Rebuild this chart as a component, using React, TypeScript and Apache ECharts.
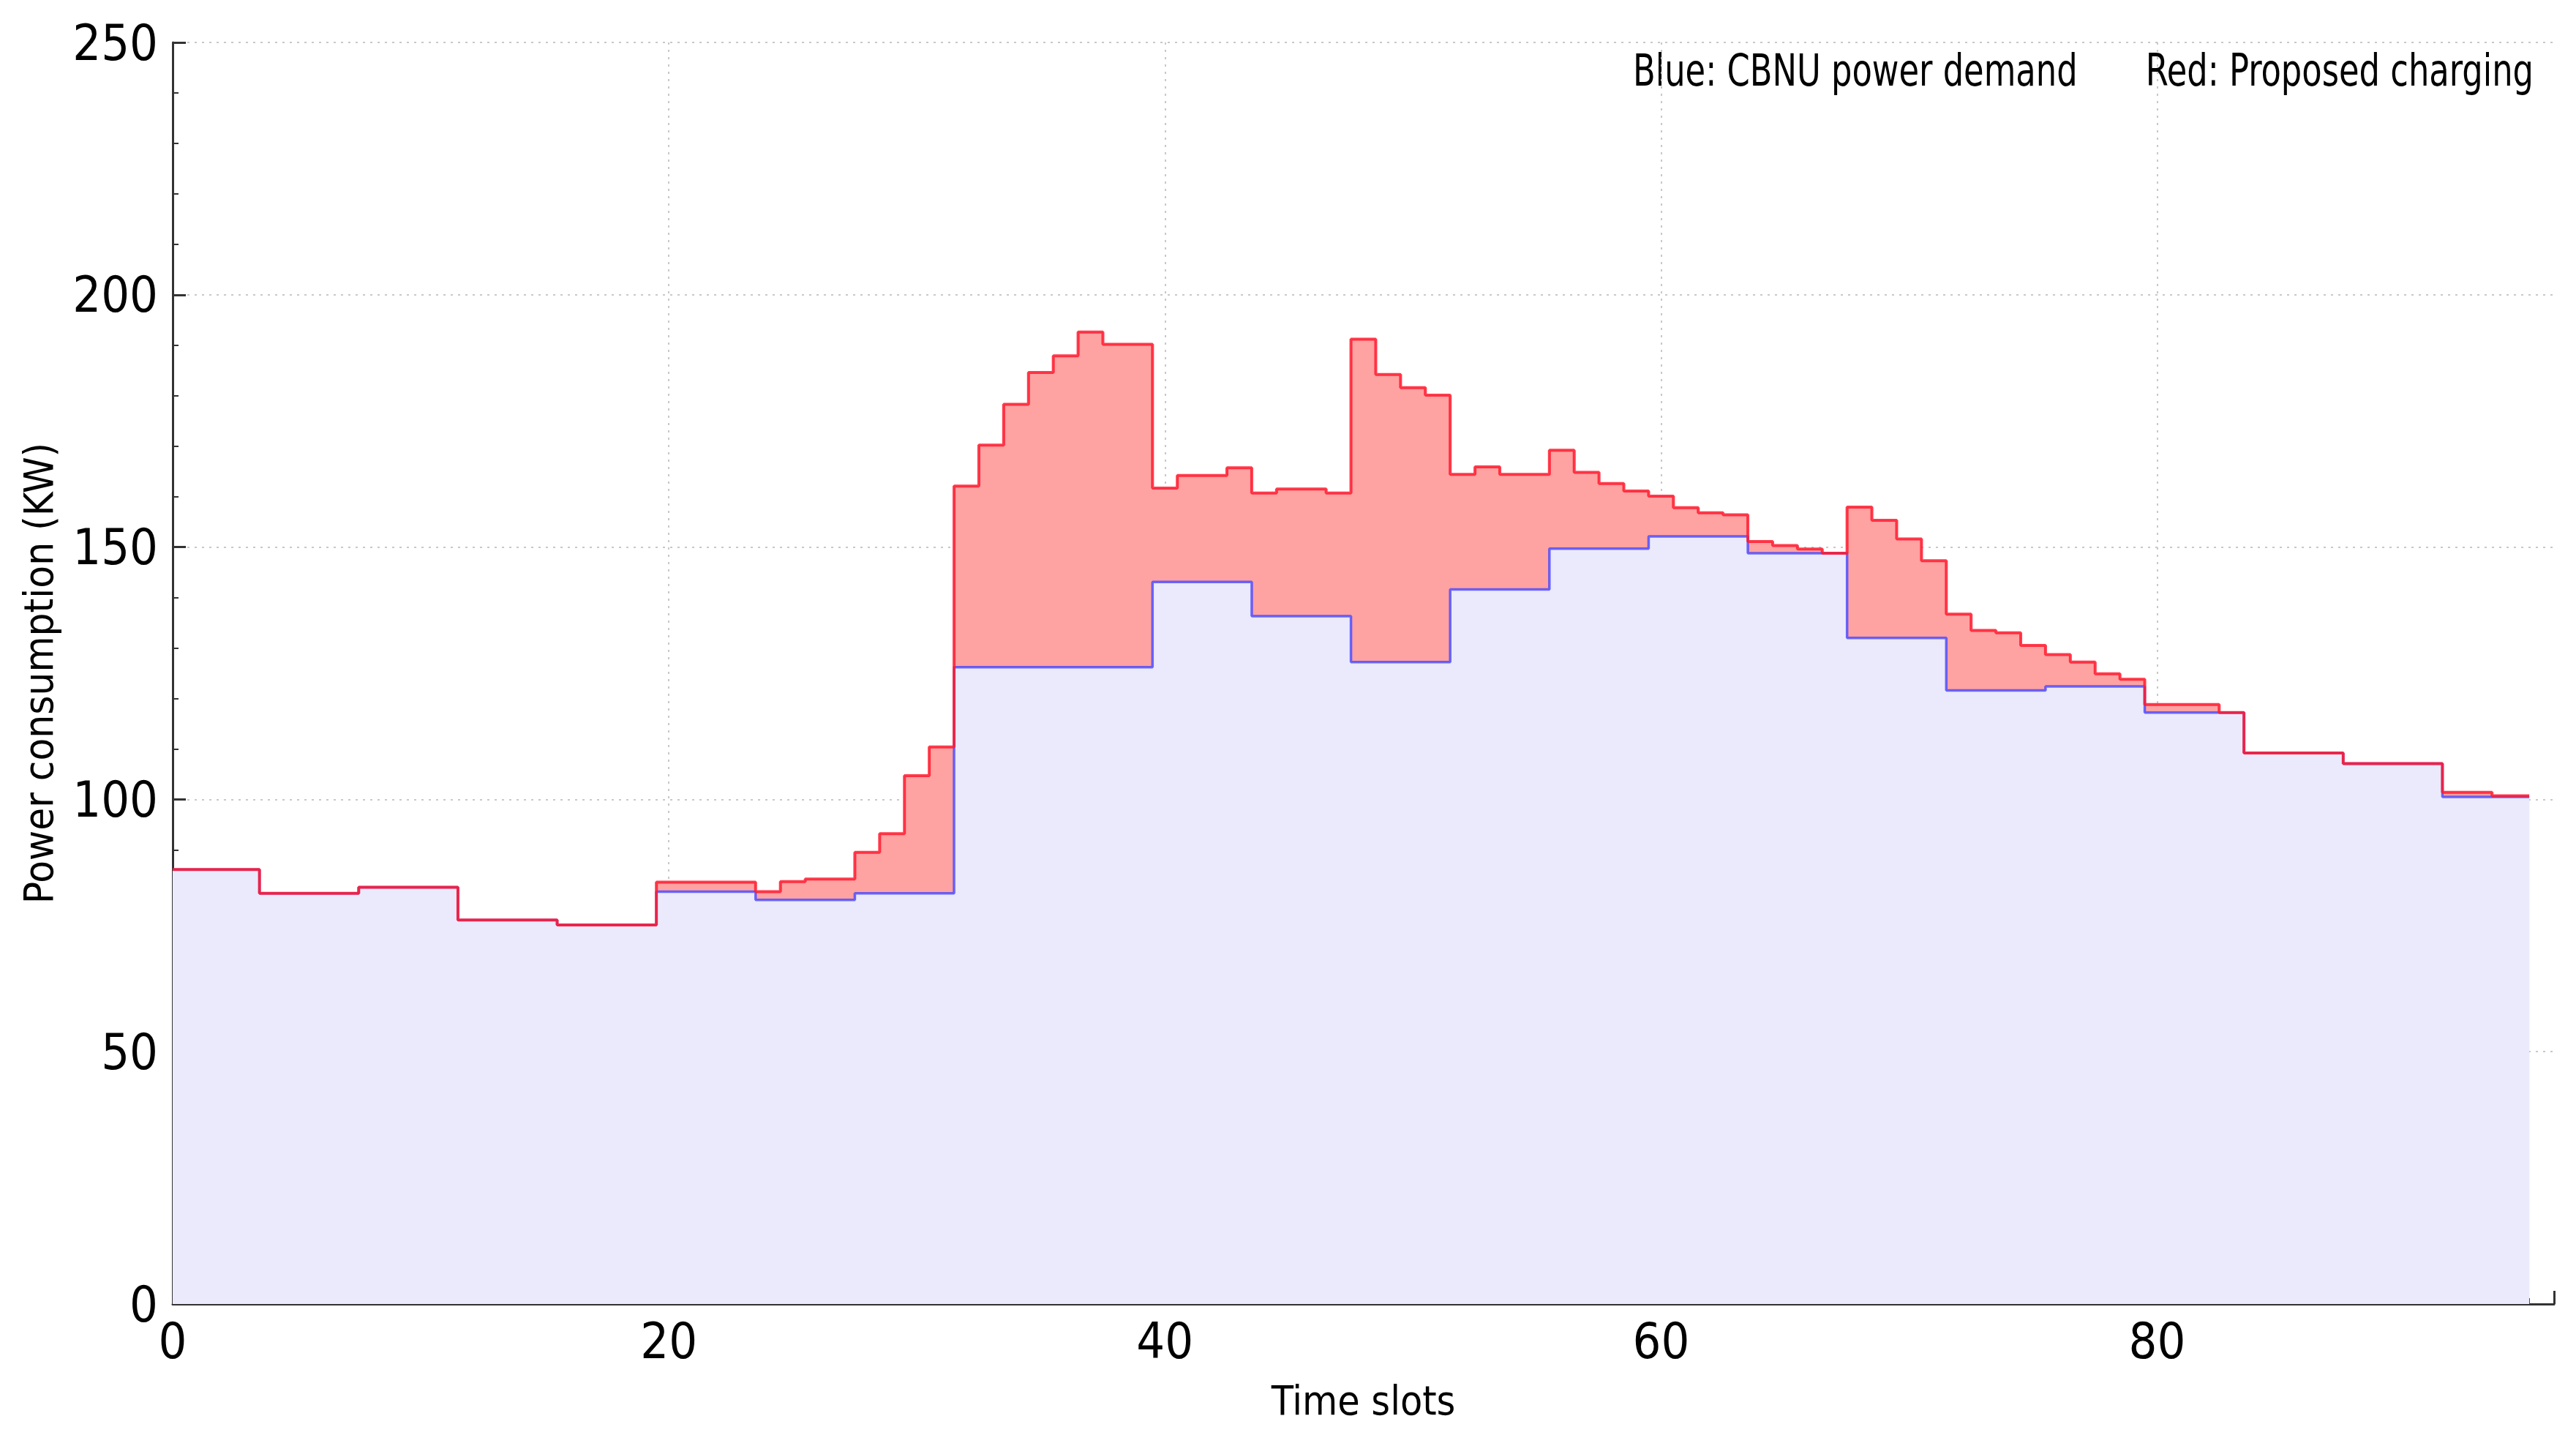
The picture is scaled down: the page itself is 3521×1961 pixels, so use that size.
import React, { useEffect, useRef } from "react";
import * as echarts from "echarts";

// CBNU power demand (blue), one value per time slot 0..95
const demand: number[] = [
  86.1, 86.1, 86.1, 86.1,
  81.4, 81.4, 81.4, 81.4,
  82.6, 82.6, 82.6, 82.6,
  76.1, 76.1, 76.1, 76.1,
  75.1, 75.1, 75.1, 75.1,
  81.7, 81.7, 81.7, 81.7,
  80.1, 80.1, 80.1, 80.1,
  81.4, 81.4, 81.4, 81.4,
  126.2, 126.2, 126.2, 126.2,
  126.2, 126.2, 126.2, 126.2,
  143.1, 143.1, 143.1, 143.1,
  136.3, 136.3, 136.3, 136.3,
  127.2, 127.2, 127.2, 127.2,
  141.6, 141.6, 141.6, 141.6,
  149.7, 149.7, 149.7, 149.7,
  152.1, 152.1, 152.1, 152.1,
  148.8, 148.8, 148.8, 148.8,
  132.0, 132.0, 132.0, 132.0,
  121.6, 121.6, 121.6, 121.6,
  122.4, 122.4, 122.4, 122.4,
  117.2, 117.2, 117.2, 117.2,
  109.2, 109.2, 109.2, 109.2,
  107.1, 107.1, 107.1, 107.1,
  100.5, 100.5, 100.5, 100.5,
];

// Proposed charging (red), one value per time slot 0..95
const proposed: number[] = [
  86.1, 86.1, 86.1, 86.1,
  81.4, 81.4, 81.4, 81.4,
  82.6, 82.6, 82.6, 82.6,
  76.1, 76.1, 76.1, 76.1,
  75.1, 75.1, 75.1, 75.1,
  83.6, 83.6, 83.6, 83.6,
  81.7, 83.7, 84.2, 84.2,
  89.5, 93.2, 104.7, 110.4,
  162.1, 170.2, 178.3, 184.6,
  187.9, 192.6, 190.2, 190.2,
  161.7, 164.2, 164.2, 165.7,
  160.7, 161.5, 161.5, 160.7,
  191.2, 184.2, 181.6, 180.1,
  164.4, 165.9, 164.4, 164.4,
  169.2, 164.8, 162.6, 161.1,
  160.1, 157.8, 156.8, 156.4,
  151.1, 150.3, 149.6, 148.8,
  157.9, 155.3, 151.6, 147.3,
  136.7, 133.5, 133.0, 130.5,
  128.7, 127.2, 124.9, 123.8,
  118.8, 118.8, 118.8, 117.2,
  109.2, 109.2, 109.2, 109.2,
  107.1, 107.1, 107.1, 107.1,
  101.4, 101.4, 100.7, 100.7,
];

const xTitle = "Time slots";
const yTitle = "Power consumption (KW)";
const blueNote = "Blue: CBNU power demand";
const redNote = "Red: Proposed charging";

const FONT =
  "'Liberation Sans Narrow', 'DejaVu Sans Condensed', 'Liberation Sans', sans-serif";

export default function App() {
  const ref = useRef<HTMLDivElement>(null);

  useEffect(() => {
    if (!ref.current) return;
    const chart = echarts.init(ref.current, null, { renderer: "svg" });

    const toPairs = (arr: number[]) => arr.map((v, i) => [i, v]);
    const redData = toPairs(proposed);
    const blueData = toPairs(demand);

    const gridLine = {
      show: true,
      showMinLine: false,
      showMaxLine: false,
      lineStyle: { color: "#c8c8c8", width: 2, type: [3, 7] as any },
    };

    const option: any = {
      animation: false,
      backgroundColor: "#ffffff",
      textStyle: { fontFamily: FONT },
      grid: { left: 236, right: 30, top: 58, bottom: 179, containLabel: false },
      xAxis: {
        type: "value",
        min: 0,
        max: 96,
        interval: 20,
        name: xTitle,
        nameLocation: "middle",
        nameGap: 104,
        nameTextStyle: { fontSize: 55, color: "#000", fontFamily: FONT },
        axisLine: { show: true, onZero: false, lineStyle: { color: "#333", width: 3 } },
        axisTick: { show: true, inside: true, length: 18, lineStyle: { color: "#333", width: 3 } },
        minorTick: { show: true, splitNumber: 4, length: 8, lineStyle: { color: "#333", width: 2 } },
        axisLabel: {
          fontSize: 68,
          color: "#000",
          margin: 16,
          showMaxLabel: false,
          fontFamily: FONT,
        },
        splitLine: gridLine,
      },
      yAxis: {
        type: "value",
        min: 0,
        max: 250,
        interval: 50,
        name: yTitle,
        nameLocation: "middle",
        nameRotate: 90,
        nameGap: 156,
        nameTextStyle: { fontSize: 56, color: "#000", fontFamily: FONT },
        axisLine: { show: true, onZero: false, lineStyle: { color: "#333", width: 3 } },
        axisTick: { show: true, inside: true, length: 18, lineStyle: { color: "#333", width: 3 } },
        minorTick: { show: true, splitNumber: 5, length: 8, lineStyle: { color: "#333", width: 2 } },
        axisLabel: { fontSize: 68, color: "#000", margin: 20, fontFamily: FONT },
        splitLine: { ...gridLine, showMaxLine: true },
      },
      graphic: [
        {
          type: "text",
          x: 2232,
          y: 96,
          scaleX: 0.83,
          style: {
            text: blueNote,
            font: `60px ${FONT}`,
            fill: "#000",
            textAlign: "left",
            align: "left",
            textVerticalAlign: "middle",
            verticalAlign: "middle",
          },
        },
        {
          type: "text",
          x: 3463,
          y: 96,
          scaleX: 0.83,
          style: {
            text: redNote,
            font: `60px ${FONT}`,
            fill: "#000",
            textAlign: "right",
            align: "right",
            textVerticalAlign: "middle",
            verticalAlign: "middle",
          },
        },
      ],
      series: [
        {
          name: "Proposed fill",
          type: "line",
          step: "middle",
          data: redData,
          showSymbol: false,
          symbol: "none",
          lineStyle: { width: 0, opacity: 0 },
          areaStyle: { color: "#ffa2a2", opacity: 1 },
          z: 2,
        },
        {
          name: "CBNU power demand",
          type: "line",
          step: "middle",
          data: blueData,
          showSymbol: false,
          symbol: "none",
          lineStyle: { color: "rgba(70,70,255,0.8)", width: 3.5 },
          areaStyle: { color: "#eaeafc", opacity: 1 },
          z: 3,
        },
        {
          name: "Proposed charging",
          type: "line",
          step: "middle",
          data: redData,
          showSymbol: false,
          symbol: "none",
          lineStyle: { color: "rgba(255,25,45,0.85)", width: 4 },
          z: 4,
        },
      ],
    };

    chart.setOption(option);
    return () => {
      chart.dispose();
    };
  }, []);

  return (
    <div
      ref={ref}
      style={{ position: "absolute", left: 0, top: 0, width: 3521, height: 1961 }}
    />
  );
}
